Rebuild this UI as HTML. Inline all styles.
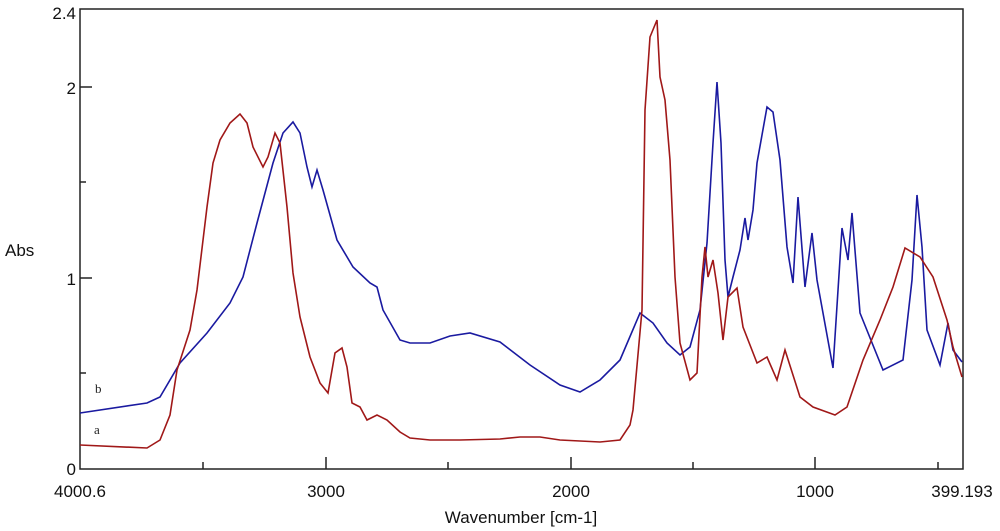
<!DOCTYPE html>
<html><head><style>
body{margin:0;background:#fff;}
svg{display:block;font-family:"Liberation Sans",sans-serif;}
</style></head><body>
<svg width="1000" height="531" viewBox="0 0 1000 531">
<rect x="0" y="0" width="1000" height="531" fill="#fff"/>
<rect x="80" y="9" width="883" height="460" fill="none" stroke="#222" stroke-width="1.5"/>
<g stroke="#222" stroke-width="1.5">
<line x1="80" y1="87" x2="92" y2="87"/><line x1="80" y1="182" x2="86" y2="182"/>
<line x1="80" y1="278" x2="92" y2="278"/><line x1="80" y1="373" x2="86" y2="373"/>
<line x1="203" y1="469" x2="203" y2="462"/><line x1="326" y1="469" x2="326" y2="457"/>
<line x1="448" y1="469" x2="448" y2="462"/><line x1="571" y1="469" x2="571" y2="457"/>
<line x1="693" y1="469" x2="693" y2="462"/><line x1="815" y1="469" x2="815" y2="457"/>
<line x1="938" y1="469" x2="938" y2="462"/>
</g>
<g font-size="17" fill="#111">
<text x="76" y="19" text-anchor="end">2.4</text>
<text x="76" y="94" text-anchor="end">2</text>
<text x="76" y="285" text-anchor="end">1</text>
<text x="76" y="475" text-anchor="end">0</text>
<text x="5" y="256">Abs</text>
<text x="80" y="497" text-anchor="middle">4000.6</text>
<text x="326" y="497" text-anchor="middle">3000</text>
<text x="571" y="497" text-anchor="middle">2000</text>
<text x="815" y="497" text-anchor="middle">1000</text>
<text x="962" y="497" text-anchor="middle">399.193</text>
<text x="521" y="523" text-anchor="middle">Wavenumber [cm-1]</text>
</g>
<g font-family="Liberation Serif,serif" font-size="13" fill="#222">
<text x="95" y="393">b</text><text x="94" y="434">a</text>
</g>
<polyline fill="none" stroke="#1a1aa0" stroke-width="1.6" points="80,413 147,403 160,397 180,363 207,333 230,303 243,277 257,223 273,163 283,133 293,122 300,133 307,167 312,187 317,170 323,190 337,240 353,267 370,283 377,287 383,310 400,340 410,343 430,343 450,336 470,333 500,342 530,365 560,385 580,392 600,380 620,360 640,313 653,323 667,343 680,355 690,347 700,310 707,243 713,143 717,82 721,143 725,260 728,297 733,277 740,250 745,218 748,240 753,210 757,163 767,107 773,112 780,160 787,247 793,283 798,197 805,287 812,233 817,280 833,368 842,228 848,260 852,213 860,313 883,370 903,360 912,280 917,195 922,247 927,330 940,365 948,323 953,350 962,362"/>
<polyline fill="none" stroke="#a01818" stroke-width="1.6" points="80,445 147,448 160,440 170,415 177,370 190,330 197,290 207,207 213,163 220,140 230,123 240,114 247,123 253,147 263,167 268,157 275,133 280,143 287,207 293,273 300,317 310,357 320,383 328,393 335,353 342,348 347,367 352,403 360,407 367,420 377,415 387,420 400,432 410,438 430,440 460,440 500,439 520,437 540,437 560,440 600,442 620,440 630,425 633,410 642,310 645,110 650,37 657,20 660,77 665,100 670,160 675,277 680,343 690,380 697,373 702,277 705,247 708,277 713,260 718,293 723,340 728,297 737,288 743,327 757,363 767,357 777,380 785,350 800,397 813,407 835,415 847,407 863,360 880,320 893,287 905,248 920,257 933,277 947,320 953,347 962,377"/>
</svg>
</body></html>
